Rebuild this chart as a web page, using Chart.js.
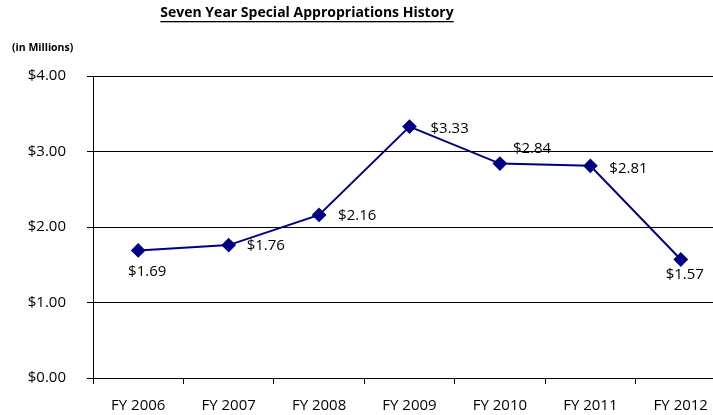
<!DOCTYPE html>
<html>
<head>
<meta charset="utf-8">
<script src="https://cdn.jsdelivr.net/npm/chart.js@4"></script>
<style>
  html, body { margin: 0; padding: 0; background: #fff; overflow: hidden; }
  #wrap { width: 713px; height: 415px; overflow: hidden; }
  canvas { display: block; }
</style>
</head>
<body>
<div id="wrap"><canvas id="chart" width="734" height="415"></canvas></div>
<script>
// --- Data ---
const fiscalYears = ["FY 2006", "FY 2007", "FY 2008", "FY 2009", "FY 2010", "FY 2011", "FY 2012"];
const appropriations = [1.69, 1.76, 2.16, 3.33, 2.84, 2.81, 1.57];
const yTicks = [0, 1, 2, 3, 4];

const chartTitle = "Seven Year Special Appropriations History";
const unitNote = "(in Millions)";

// where each value label sits relative to its point: [dx, dy, align]
const labelPlacement = [
    [9, 21, "center"], [18, 1, "left"], [19, 1, "left"], [21, 2, "left"],
    [13, -15, "left"], [19, 3, "left"], [4, 15, "center"]
];

const FONT = "'Open Sans', sans-serif";

const textPlugin = {
    id: "textPlugin",
    afterDraw(chart) {
        const ctx = chart.ctx;
        ctx.save();
        // title, bold + underlined
        ctx.font = "bold 14px " + FONT;
        ctx.fillStyle = "#000";
        ctx.textAlign = "center";
        ctx.textBaseline = "middle";
        const tx = 307, ty = 13;
        ctx.fillText(chartTitle, tx, ty);
        const w = ctx.measureText(chartTitle).width;
        ctx.fillRect(tx - w / 2, ty + 8, w, 1.3);

        ctx.font = "bold 10.5px " + FONT;
        ctx.textAlign = "left";
        ctx.fillText(unitNote, 12, 48);

        // value labels
        ctx.font = "15px " + FONT;
        const meta = chart.getDatasetMeta(0);
        meta.data.forEach((pt, i) => {
            const [dx, dy, align] = labelPlacement[i];
            ctx.textAlign = align;
            ctx.fillText("$" + appropriations[i].toFixed(2), pt.x + dx, pt.y + dy);
        });
        ctx.restore();
    }
};

new Chart(document.getElementById("chart"), {
    type: "line",
    data: {
        labels: fiscalYears,
        datasets: [{
            data: appropriations,
            borderColor: "#000080",
            backgroundColor: "#000080",
            borderWidth: 2,
            pointStyle: "rectRot",
            pointRadius: 6,
            pointHoverRadius: 6,
            tension: 0
        }]
    },
    options: {
        responsive: false,
        animation: false,
        devicePixelRatio: 1,
        layout: { padding: { top: 76, right: 0, left: 0, bottom: 0 } },
        plugins: {
            legend: { display: false },
            tooltip: { enabled: false }
        },
        scales: {
            x: {
                offset: true,
                grid: { offset: true, drawOnChartArea: false, color: "#000", tickLength: 6 },
                border: { color: "#000", width: 1 },
                ticks: { color: "#000", font: { family: FONT, size: 15 }, padding: 13, maxRotation: 0 },
                afterFit(scale) {
                    scale.height = 37;
                    scale.paddingLeft = 0;
                    scale.paddingRight = 0;
                }
            },
            y: {
                min: 0,
                max: 4,
                afterBuildTicks(scale) { scale.ticks = yTicks.map(v => ({ value: v })); },
                grid: { color: "#000", lineWidth: 1, tickLength: 6 },
                border: { color: "#000", width: 1 },
                ticks: {
                    color: "#000",
                    font: { family: FONT, size: 15 },
                    padding: 21,
                    callback: v => "$" + v.toFixed(2)
                },
                afterFit(scale) {
                    scale.width = 93;
                    scale.paddingTop = 0;
                    scale.paddingBottom = 0;
                }
            }
        }
    },
    plugins: [textPlugin]
});
</script>
</body>
</html>
